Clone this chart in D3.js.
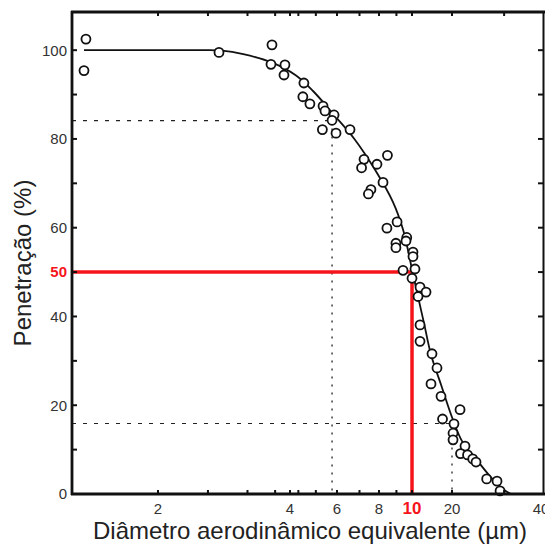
<!DOCTYPE html>
<html>
<head>
<meta charset="utf-8">
<script src="https://cdn.jsdelivr.net/npm/d3@7"></script>
<style>
  body { margin: 0; background: #fff; }
  svg { display: block; }
</style>
</head>
<body>
<svg id="chart" width="545" height="546"></svg>
<script>
// Penetration (%) versus equivalent aerodynamic diameter (µm)

// axis breaks of the diameter axis (the printed scale is piecewise logarithmic)
const xBreaks = [1.27, 2, 4, 6, 8, 10, 20, 40.6];
const xBreakFractions = [0, 0.1826, 0.4628, 0.5626, 0.6518, 0.7219, 0.8068, 1];
const xTickValues = [2, 4, 6, 8, 20, 40];
const xMinorTicks = [2, 2.6, 3.2, 3.7, 4, 4.3, 5, 6, 7, 8, 9, 10, 20, 30];
const yTickValues = [0, 20, 40, 60, 80, 100];
const yMinorTicks = [10, 30, 50, 70, 90];

// measured points
const pointDiameter = [1.367, 1.353, 2.755, 3.639, 3.62, 3.896, 3.876, 4.51, 4.47, 4.75,
  5.32, 5.41, 5.85, 5.75, 5.29, 5.95, 6.56, 7.22, 7.10, 7.89,
  8.47, 8.22, 7.57, 7.44, 9.04, 8.44, 9.65, 9.60, 8.97, 8.97,
  10.17, 10.17, 9.41, 10.53, 10.0, 11.49, 12.75, 11.1, 11.49, 11.49,
  14.14, 15.42, 13.9, 16.53, 21.29, 16.97, 20.31, 20.16, 20.16, 22.13,
  21.37, 22.57, 23.5, 24.11, 26.19, 28.39, 29.07];
const pointPenetration = [102.5, 95.4, 99.5, 101.2, 96.8, 96.7, 94.4, 92.6, 89.5, 87.9,
  87.4, 86.3, 85.4, 84.2, 82.1, 81.3, 82.1, 75.4, 73.5, 74.3,
  76.3, 70.2, 68.6, 67.6, 61.3, 59.9, 57.8, 57.0, 56.5, 55.5,
  54.5, 53.5, 50.4, 50.7, 48.6, 46.6, 45.5, 44.5, 38.1, 34.4,
  31.6, 28.4, 24.8, 22.0, 19.0, 16.9, 15.8, 13.7, 12.2, 10.8,
  9.1, 8.8, 7.9, 7.2, 3.4, 2.9, 0.7];

// fitted penetration curve
const curveDiameter = [1.353, 2.0, 2.55, 2.80, 3.13, 3.62, 4.19, 4.88, 5.85, 6.76, 7.81, 8.78,
  9.41, 10.1, 10.9, 12.31, 13.9, 16.64, 20, 21.67, 24.11, 26.89, 29.99, 31.67];
const curvePenetration = [100, 100, 100, 99.9, 99.1, 97.3, 94.4, 90.8, 85.4, 80, 72.9, 65.9,
  59.6, 50, 45.5, 38.5, 31.4, 24.4, 17.3, 11.8, 7.9, 4, 0.9, 0];

// 84 % / 16 % guide lines and the 50 % cut point
const guideDiameter = [5.75, 20];
const guidePenetration = [84.13, 15.87];
const cutDiameter = 10;
const cutPenetration = 50;

const xTitle = "Diâmetro aerodinâmico equivalente (µm)";
const yTitle = "Penetração (%)";

const svg = d3.select("#chart");
const plotLeft = 72, plotRight = 543, plotTop = 12, plotBottom = 494;
const plotW = plotRight - plotLeft;

const x = d3.scaleLog()
  .domain(xBreaks)
  .range(xBreakFractions.map(f => plotLeft + f * plotW));
const y = d3.scaleLinear().domain([0, 108.6]).range([plotBottom, plotTop]);

const ink = "#111";
const red = "#f5141a";

// guide lines (dashed horizontals, dotted verticals)
const guides = svg.append("g").attr("stroke", "#222").attr("fill", "none");
guideDiameter.forEach((d, i) => {
  guides.append("line")
    .attr("x1", plotLeft).attr("x2", x(d))
    .attr("y1", y(guidePenetration[i])).attr("y2", y(guidePenetration[i]))
    .attr("stroke-width", 1.1).attr("stroke-dasharray", "4,7");
  guides.append("line")
    .attr("x1", x(d)).attr("x2", x(d))
    .attr("y1", y(guidePenetration[i])).attr("y2", y(0))
    .attr("stroke-width", 1.3).attr("stroke-dasharray", "2,6");
});

// red 50 % cut lines
svg.append("line")
  .attr("x1", plotLeft).attr("x2", x(cutDiameter))
  .attr("y1", y(cutPenetration)).attr("y2", y(cutPenetration))
  .attr("stroke", red).attr("stroke-width", 3.5);
svg.append("line")
  .attr("x1", x(cutDiameter)).attr("x2", x(cutDiameter))
  .attr("y1", y(cutPenetration)).attr("y2", y(0))
  .attr("stroke", red).attr("stroke-width", 3.5);

// fitted curve
const curveData = curveDiameter.map((d, i) => [d, curvePenetration[i]]);
svg.append("path")
  .datum(curveData)
  .attr("fill", "none")
  .attr("stroke", ink)
  .attr("stroke-width", 1.8)
  .attr("d", d3.line()
    .x(d => x(d[0])).y(d => y(d[1]))
    .curve(d3.curveCatmullRom.alpha(0.5)));

// measured points
const pts = pointDiameter.map((d, i) => [d, pointPenetration[i]]);
svg.append("g")
  .selectAll("circle")
  .data(pts)
  .join("circle")
  .attr("cx", d => x(d[0]))
  .attr("cy", d => y(d[1]))
  .attr("r", 4.5)
  .attr("fill", "#fff")
  .attr("stroke", ink)
  .attr("stroke-width", 1.8);

// frame
const frame = svg.append("g").attr("stroke", ink).attr("fill", "none");
frame.append("line").attr("x1", plotLeft).attr("x2", plotLeft).attr("y1", plotTop - 1).attr("y2", plotBottom + 1).attr("stroke-width", 2.8);
frame.append("line").attr("x1", plotLeft - 1).attr("x2", 545).attr("y1", plotTop).attr("y2", plotTop).attr("stroke-width", 3.2);
frame.append("line").attr("x1", plotLeft - 1).attr("x2", 545).attr("y1", plotBottom).attr("y2", plotBottom).attr("stroke-width", 2.8);
frame.append("line").attr("x1", plotRight + 0.5).attr("x2", plotRight + 0.5).attr("y1", plotTop).attr("y2", plotBottom).attr("stroke-width", 2);

// y ticks (inside, left and right spines)
const yAll = yTickValues.concat(yMinorTicks);
yAll.forEach(v => {
  frame.append("line").attr("x1", plotLeft).attr("x2", plotLeft + 5)
    .attr("y1", y(v)).attr("y2", y(v)).attr("stroke-width", 2);
  frame.append("line").attr("x1", plotRight).attr("x2", plotRight - 5)
    .attr("y1", y(v)).attr("y2", y(v)).attr("stroke-width", 2);
});
// x ticks (inside, bottom and top)
xMinorTicks.forEach(v => {
  frame.append("line").attr("x1", x(v)).attr("x2", x(v))
    .attr("y1", plotBottom).attr("y2", plotBottom - 4).attr("stroke-width", 2);
  frame.append("line").attr("x1", x(v)).attr("x2", x(v))
    .attr("y1", plotTop).attr("y2", plotTop + 4).attr("stroke-width", 2);
});

// tick labels
const tickFont = "'Liberation Sans Narrow', 'Liberation Sans', Arial, sans-serif";
svg.append("g")
  .selectAll("text")
  .data(yTickValues)
  .join("text")
  .attr("x", plotLeft - 5)
  .attr("y", d => y(d))
  .attr("dy", "0.36em")
  .attr("text-anchor", "end")
  .attr("font-family", tickFont)
  .attr("font-size", 15)
  .attr("fill", "#333")
  .text(d => d);

svg.append("g")
  .selectAll("text")
  .data(xTickValues)
  .join("text")
  .attr("x", d => x(d))
  .attr("y", plotBottom + 20)
  .attr("text-anchor", "middle")
  .attr("font-family", tickFont)
  .attr("font-size", 15)
  .attr("fill", "#333")
  .text(d => d);

// red cut labels
svg.append("text")
  .attr("x", plotLeft - 5)
  .attr("y", y(cutPenetration))
  .attr("dy", "0.36em")
  .attr("text-anchor", "end")
  .attr("font-family", tickFont)
  .attr("font-weight", "bold")
  .attr("font-size", 15)
  .attr("fill", red)
  .text(cutPenetration);
svg.append("text")
  .attr("x", x(cutDiameter))
  .attr("y", plotBottom + 20)
  .attr("text-anchor", "middle")
  .attr("font-family", "'Liberation Sans', Arial, sans-serif")
  .attr("font-weight", "bold")
  .attr("font-size", 17)
  .attr("fill", red)
  .text(cutDiameter);

// axis titles
svg.append("text")
  .attr("x", 310)
  .attr("y", 539)
  .attr("text-anchor", "middle")
  .attr("font-family", "'Liberation Sans', Arial, sans-serif")
  .attr("font-size", 24)
  .attr("fill", "#222")
  .text(xTitle);
svg.append("text")
  .attr("transform", "translate(31,263) rotate(-90)")
  .attr("text-anchor", "middle")
  .attr("font-family", "'Liberation Sans', Arial, sans-serif")
  .attr("font-size", 24)
  .attr("fill", "#222")
  .text(yTitle);
</script>
</body>
</html>
